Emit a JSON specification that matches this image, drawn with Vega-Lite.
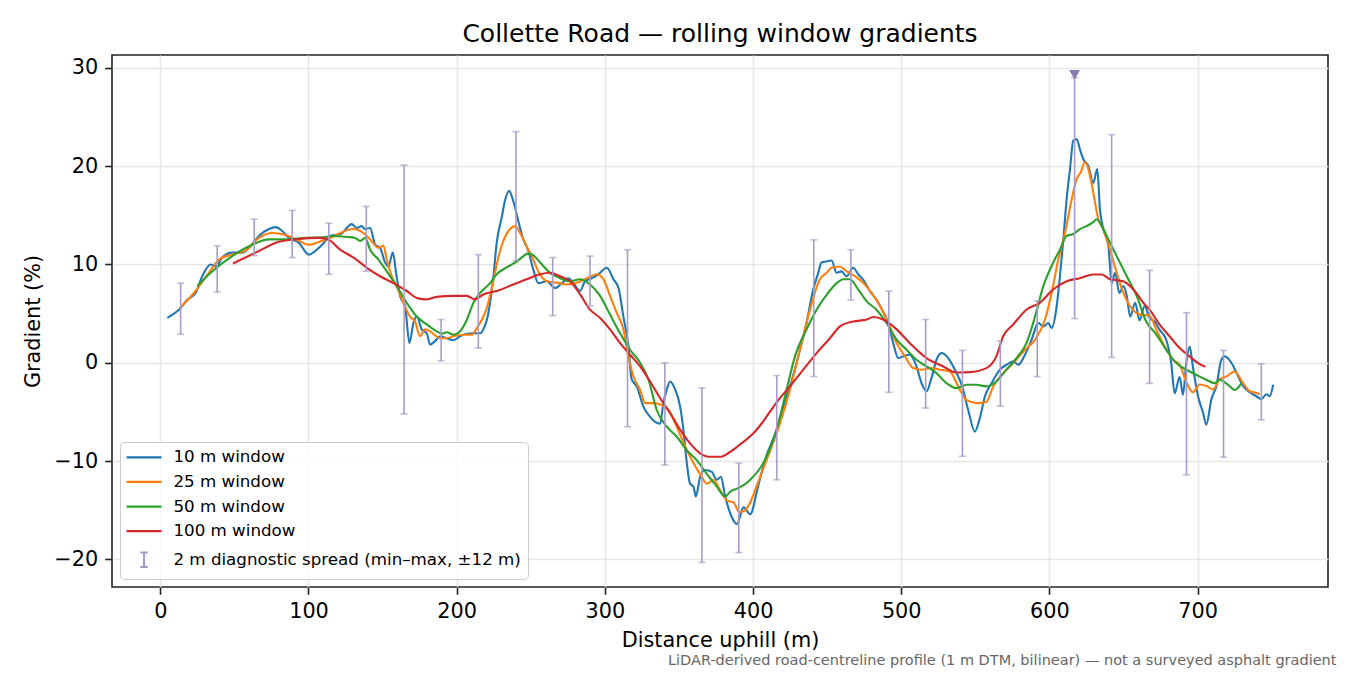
{
  "$schema": "https://vega.github.io/schema/vega-lite/v6.json",
  "width": 1216,
  "height": 532,
  "autosize": {"type": "none"},
  "padding": {"left": 112, "top": 55, "right": 22, "bottom": 88},
  "title": {
    "text": "Collette Road — rolling window gradients",
    "font": "DejaVu Sans", "fontSize": 25, "fontWeight": "normal", "color": "#000000",
    "anchor": "middle", "frame": "group", "offset": 8
  },
  "datasets": {
    "profiles": [
      {"series":"10 m window","dist":4.7,"grad":4.56},{"series":"10 m window","dist":8.1,"grad":4.9},{"series":"10 m window","dist":12.6,"grad":5.4},{"series":"10 m window","dist":18.2,"grad":6.4},{"series":"10 m window","dist":23.8,"grad":7.1},{"series":"10 m window","dist":28.3,"grad":8.8},{"series":"10 m window","dist":33.9,"grad":10.0},{"series":"10 m window","dist":37.5,"grad":9.8},{"series":"10 m window","dist":41.8,"grad":10.7},{"series":"10 m window","dist":48.5,"grad":11.2},{"series":"10 m window","dist":55.3,"grad":11.2},{"series":"10 m window","dist":59.8,"grad":11.7},{"series":"10 m window","dist":66.5,"grad":12.9},{"series":"10 m window","dist":73.3,"grad":13.6},{"series":"10 m window","dist":77.8,"grad":13.8},{"series":"10 m window","dist":82.3,"grad":13.4},{"series":"10 m window","dist":86.8,"grad":12.7},{"series":"10 m window","dist":93.5,"grad":12.2},{"series":"10 m window","dist":100.3,"grad":11.0},{"series":"10 m window","dist":104.8,"grad":11.4},{"series":"10 m window","dist":109.2,"grad":12.0},{"series":"10 m window","dist":114.6,"grad":12.9},{"series":"10 m window","dist":121.4,"grad":13.06},{"series":"10 m window","dist":129.2,"grad":14.1},{"series":"10 m window","dist":132.6,"grad":13.7},{"series":"10 m window","dist":135.9,"grad":13.9},{"series":"10 m window","dist":138.1,"grad":13.6},{"series":"10 m window","dist":141.6,"grad":13.7},{"series":"10 m window","dist":145.0,"grad":12.0},{"series":"10 m window","dist":148.3,"grad":11.7},{"series":"10 m window","dist":151.7,"grad":10.2},{"series":"10 m window","dist":153.9,"grad":9.8},{"series":"10 m window","dist":156.9,"grad":11.2},{"series":"10 m window","dist":159.1,"grad":9.15},{"series":"10 m window","dist":161.8,"grad":6.8},{"series":"10 m window","dist":165.2,"grad":5.75},{"series":"10 m window","dist":168.1,"grad":2.0},{"series":"10 m window","dist":170.8,"grad":4.05},{"series":"10 m window","dist":173.1,"grad":4.7},{"series":"10 m window","dist":176.4,"grad":3.4},{"series":"10 m window","dist":179.8,"grad":3.0},{"series":"10 m window","dist":182.1,"grad":1.84},{"series":"10 m window","dist":185.4,"grad":2.2},{"series":"10 m window","dist":188.8,"grad":2.7},{"series":"10 m window","dist":193.3,"grad":2.5},{"series":"10 m window","dist":197.8,"grad":2.3},{"series":"10 m window","dist":202.3,"grad":2.7},{"series":"10 m window","dist":206.8,"grad":2.96},{"series":"10 m window","dist":211.3,"grad":3.0},{"series":"10 m window","dist":215.8,"grad":3.0},{"series":"10 m window","dist":218.0,"grad":3.4},{"series":"10 m window","dist":221.4,"grad":5.07},{"series":"10 m window","dist":224.8,"grad":8.8},{"series":"10 m window","dist":227.0,"grad":12.2},{"series":"10 m window","dist":230.4,"grad":14.8},{"series":"10 m window","dist":232.6,"grad":16.5},{"series":"10 m window","dist":235.5,"grad":17.5},{"series":"10 m window","dist":237.0,"grad":17.0},{"series":"10 m window","dist":239.4,"grad":15.8},{"series":"10 m window","dist":241.6,"grad":14.4},{"series":"10 m window","dist":245.0,"grad":12.55},{"series":"10 m window","dist":248.4,"grad":11.36},{"series":"10 m window","dist":251.7,"grad":9.5},{"series":"10 m window","dist":255.1,"grad":8.1},{"series":"10 m window","dist":260.8,"grad":8.3},{"series":"10 m window","dist":266.4,"grad":7.6},{"series":"10 m window","dist":270.9,"grad":8.1},{"series":"10 m window","dist":275.4,"grad":8.6},{"series":"10 m window","dist":278.8,"grad":8.1},{"series":"10 m window","dist":283.3,"grad":7.3},{"series":"10 m window","dist":286.6,"grad":8.3},{"series":"10 m window","dist":291.1,"grad":8.6},{"series":"10 m window","dist":295.6,"grad":9.0},{"series":"10 m window","dist":301.3,"grad":9.66},{"series":"10 m window","dist":305.8,"grad":8.5},{"series":"10 m window","dist":309.2,"grad":7.6},{"series":"10 m window","dist":312.5,"grad":4.7},{"series":"10 m window","dist":315.9,"grad":1.66},{"series":"10 m window","dist":318.1,"grad":-1.7},{"series":"10 m window","dist":321.5,"grad":-2.4},{"series":"10 m window","dist":326.0,"grad":-4.46},{"series":"10 m window","dist":330.5,"grad":-5.5},{"series":"10 m window","dist":333.9,"grad":-6.0},{"series":"10 m window","dist":337.3,"grad":-6.2},{"series":"10 m window","dist":339.5,"grad":-4.1},{"series":"10 m window","dist":341.8,"grad":-2.7},{"series":"10 m window","dist":344.0,"grad":-1.9},{"series":"10 m window","dist":347.4,"grad":-2.7},{"series":"10 m window","dist":350.8,"grad":-4.46},{"series":"10 m window","dist":353.0,"grad":-6.8},{"series":"10 m window","dist":355.3,"grad":-10.2},{"series":"10 m window","dist":357.5,"grad":-12.3},{"series":"10 m window","dist":359.8,"grad":-12.6},{"series":"10 m window","dist":361.4,"grad":-13.6},{"series":"10 m window","dist":364.3,"grad":-11.6},{"series":"10 m window","dist":367.7,"grad":-10.9},{"series":"10 m window","dist":372.2,"grad":-11.1},{"series":"10 m window","dist":375.6,"grad":-11.9},{"series":"10 m window","dist":378.3,"grad":-11.6},{"series":"10 m window","dist":381.2,"grad":-13.6},{"series":"10 m window","dist":385.7,"grad":-15.7},{"series":"10 m window","dist":389.1,"grad":-16.4},{"series":"10 m window","dist":393.6,"grad":-14.7},{"series":"10 m window","dist":398.1,"grad":-15.4},{"series":"10 m window","dist":403.0,"grad":-12.8},{"series":"10 m window","dist":408.0,"grad":-9.9},{"series":"10 m window","dist":415.9,"grad":-6.8},{"series":"10 m window","dist":420.4,"grad":-4.46},{"series":"10 m window","dist":424.9,"grad":-2.4},{"series":"10 m window","dist":430.5,"grad":0.65},{"series":"10 m window","dist":436.1,"grad":4.05},{"series":"10 m window","dist":440.6,"grad":7.45},{"series":"10 m window","dist":444.0,"grad":9.15},{"series":"10 m window","dist":446.2,"grad":10.2},{"series":"10 m window","dist":449.6,"grad":10.3},{"series":"10 m window","dist":453.0,"grad":10.4},{"series":"10 m window","dist":456.4,"grad":9.15},{"series":"10 m window","dist":459.7,"grad":9.3},{"series":"10 m window","dist":463.1,"grad":8.8},{"series":"10 m window","dist":467.6,"grad":9.66},{"series":"10 m window","dist":471.0,"grad":8.98},{"series":"10 m window","dist":474.3,"grad":8.46},{"series":"10 m window","dist":478.8,"grad":7.3},{"series":"10 m window","dist":483.3,"grad":6.4},{"series":"10 m window","dist":487.8,"grad":5.2},{"series":"10 m window","dist":491.2,"grad":4.05},{"series":"10 m window","dist":494.6,"grad":2.0},{"series":"10 m window","dist":498.0,"grad":0.48},{"series":"10 m window","dist":501.3,"grad":0.65},{"series":"10 m window","dist":505.8,"grad":0.82},{"series":"10 m window","dist":510.3,"grad":-0.37},{"series":"10 m window","dist":513.7,"grad":-2.07},{"series":"10 m window","dist":517.1,"grad":-2.9},{"series":"10 m window","dist":520.4,"grad":-1.56},{"series":"10 m window","dist":523.8,"grad":0.31},{"series":"10 m window","dist":527.2,"grad":0.99},{"series":"10 m window","dist":531.7,"grad":0.48},{"series":"10 m window","dist":536.2,"grad":-0.7},{"series":"10 m window","dist":540.7,"grad":-2.2},{"series":"10 m window","dist":545.2,"grad":-4.8},{"series":"10 m window","dist":549.7,"grad":-7.0},{"series":"10 m window","dist":553.1,"grad":-5.6},{"series":"10 m window","dist":556.5,"grad":-3.4},{"series":"10 m window","dist":561.0,"grad":-2.07},{"series":"10 m window","dist":566.6,"grad":-0.7},{"series":"10 m window","dist":571.1,"grad":-0.2},{"series":"10 m window","dist":575.6,"grad":0.14},{"series":"10 m window","dist":579.0,"grad":-0.2},{"series":"10 m window","dist":583.5,"grad":0.82},{"series":"10 m window","dist":588.0,"grad":2.35},{"series":"10 m window","dist":592.5,"grad":4.05},{"series":"10 m window","dist":595.9,"grad":3.7},{"series":"10 m window","dist":599.2,"grad":4.05},{"series":"10 m window","dist":601.5,"grad":3.54},{"series":"10 m window","dist":604.9,"grad":5.75},{"series":"10 m window","dist":607.1,"grad":8.8},{"series":"10 m window","dist":609.4,"grad":12.55},{"series":"10 m window","dist":611.6,"grad":16.6},{"series":"10 m window","dist":613.9,"grad":19.7},{"series":"10 m window","dist":616.1,"grad":22.6},{"series":"10 m window","dist":618.4,"grad":22.75},{"series":"10 m window","dist":620.6,"grad":21.7},{"series":"10 m window","dist":622.9,"grad":20.7},{"series":"10 m window","dist":626.3,"grad":20.0},{"series":"10 m window","dist":629.6,"grad":18.3},{"series":"10 m window","dist":632.3,"grad":19.7},{"series":"10 m window","dist":634.1,"grad":15.6},{"series":"10 m window","dist":636.4,"grad":13.6},{"series":"10 m window","dist":639.8,"grad":11.9},{"series":"10 m window","dist":642.0,"grad":8.1},{"series":"10 m window","dist":644.3,"grad":9.15},{"series":"10 m window","dist":647.2,"grad":7.1},{"series":"10 m window","dist":650.0,"grad":7.8},{"series":"10 m window","dist":652.2,"grad":6.8},{"series":"10 m window","dist":654.5,"grad":4.7},{"series":"10 m window","dist":657.9,"grad":6.1},{"series":"10 m window","dist":660.8,"grad":4.3},{"series":"10 m window","dist":664.2,"grad":5.75},{"series":"10 m window","dist":667.6,"grad":4.56},{"series":"10 m window","dist":671.0,"grad":4.2},{"series":"10 m window","dist":674.3,"grad":3.37},{"series":"10 m window","dist":678.8,"grad":2.35},{"series":"10 m window","dist":682.2,"grad":-0.03},{"series":"10 m window","dist":684.5,"grad":-3.1},{"series":"10 m window","dist":687.9,"grad":-1.45},{"series":"10 m window","dist":690.1,"grad":-3.27},{"series":"10 m window","dist":692.4,"grad":0.0},{"series":"10 m window","dist":694.6,"grad":1.66},{"series":"10 m window","dist":696.9,"grad":-0.48},{"series":"10 m window","dist":700.3,"grad":-3.4},{"series":"10 m window","dist":703.7,"grad":-5.1},{"series":"10 m window","dist":705.9,"grad":-6.3},{"series":"10 m window","dist":709.3,"grad":-3.7},{"series":"10 m window","dist":712.7,"grad":-2.35},{"series":"10 m window","dist":716.0,"grad":0.31},{"series":"10 m window","dist":718.3,"grad":0.65},{"series":"10 m window","dist":722.8,"grad":0.0},{"series":"10 m window","dist":726.2,"grad":-1.0},{"series":"10 m window","dist":730.7,"grad":-2.35},{"series":"10 m window","dist":735.2,"grad":-3.0},{"series":"10 m window","dist":739.7,"grad":-3.4},{"series":"10 m window","dist":743.0,"grad":-3.7},{"series":"10 m window","dist":746.4,"grad":-3.2},{"series":"10 m window","dist":748.7,"grad":-3.4},{"series":"10 m window","dist":751.0,"grad":-2.24},
      {"series":"25 m window","dist":12.6,"grad":5.5},{"series":"25 m window","dist":23.8,"grad":7.3},{"series":"25 m window","dist":33.0,"grad":9.2},{"series":"25 m window","dist":39.6,"grad":10.5},{"series":"25 m window","dist":48.0,"grad":11.0},{"series":"25 m window","dist":57.5,"grad":11.4},{"series":"25 m window","dist":66.5,"grad":12.7},{"series":"25 m window","dist":75.5,"grad":13.2},{"series":"25 m window","dist":84.5,"grad":13.0},{"series":"25 m window","dist":93.5,"grad":12.4},{"series":"25 m window","dist":100.3,"grad":12.0},{"series":"25 m window","dist":109.2,"grad":12.4},{"series":"25 m window","dist":114.8,"grad":12.7},{"series":"25 m window","dist":121.4,"grad":13.2},{"series":"25 m window","dist":130.4,"grad":13.6},{"series":"25 m window","dist":137.0,"grad":13.2},{"series":"25 m window","dist":141.6,"grad":12.55},{"series":"25 m window","dist":147.2,"grad":11.7},{"series":"25 m window","dist":150.6,"grad":11.9},{"series":"25 m window","dist":152.8,"grad":10.5},{"series":"25 m window","dist":156.2,"grad":8.8},{"series":"25 m window","dist":159.5,"grad":7.8},{"series":"25 m window","dist":164.0,"grad":6.1},{"series":"25 m window","dist":168.5,"grad":4.7},{"series":"25 m window","dist":171.9,"grad":4.2},{"series":"25 m window","dist":175.3,"grad":2.7},{"series":"25 m window","dist":178.6,"grad":3.4},{"series":"25 m window","dist":182.1,"grad":3.2},{"series":"25 m window","dist":185.4,"grad":2.8},{"series":"25 m window","dist":188.8,"grad":2.5},{"series":"25 m window","dist":193.3,"grad":2.5},{"series":"25 m window","dist":197.8,"grad":2.7},{"series":"25 m window","dist":204.5,"grad":2.85},{"series":"25 m window","dist":210.2,"grad":2.85},{"series":"25 m window","dist":213.5,"grad":3.5},{"series":"25 m window","dist":216.9,"grad":4.35},{"series":"25 m window","dist":220.3,"grad":5.55},{"series":"25 m window","dist":223.7,"grad":7.6},{"series":"25 m window","dist":227.0,"grad":10.0},{"series":"25 m window","dist":231.5,"grad":12.4},{"series":"25 m window","dist":236.0,"grad":13.6},{"series":"25 m window","dist":239.4,"grad":13.9},{"series":"25 m window","dist":242.8,"grad":13.2},{"series":"25 m window","dist":247.2,"grad":11.86},{"series":"25 m window","dist":251.7,"grad":10.5},{"series":"25 m window","dist":255.0,"grad":9.3},{"series":"25 m window","dist":260.8,"grad":8.3},{"series":"25 m window","dist":267.5,"grad":8.15},{"series":"25 m window","dist":274.3,"grad":7.96},{"series":"25 m window","dist":281.0,"grad":8.15},{"series":"25 m window","dist":287.8,"grad":8.6},{"series":"25 m window","dist":294.5,"grad":9.0},{"series":"25 m window","dist":299.0,"grad":8.5},{"series":"25 m window","dist":303.5,"grad":6.8},{"series":"25 m window","dist":308.0,"grad":5.07},{"series":"25 m window","dist":312.5,"grad":3.4},{"series":"25 m window","dist":315.9,"grad":0.65},{"series":"25 m window","dist":319.3,"grad":-1.4},{"series":"25 m window","dist":323.8,"grad":-2.76},{"series":"25 m window","dist":327.2,"grad":-4.1},{"series":"25 m window","dist":332.8,"grad":-4.1},{"series":"25 m window","dist":338.4,"grad":-4.3},{"series":"25 m window","dist":342.9,"grad":-4.8},{"series":"25 m window","dist":348.5,"grad":-6.5},{"series":"25 m window","dist":354.2,"grad":-8.5},{"series":"25 m window","dist":359.8,"grad":-10.2},{"series":"25 m window","dist":365.4,"grad":-11.6},{"series":"25 m window","dist":368.8,"grad":-12.3},{"series":"25 m window","dist":373.3,"grad":-11.9},{"series":"25 m window","dist":377.8,"grad":-12.96},{"series":"25 m window","dist":382.3,"grad":-14.0},{"series":"25 m window","dist":386.8,"grad":-14.2},{"series":"25 m window","dist":390.8,"grad":-15.2},{"series":"25 m window","dist":394.7,"grad":-15.0},{"series":"25 m window","dist":398.1,"grad":-14.2},{"series":"25 m window","dist":403.0,"grad":-12.3},{"series":"25 m window","dist":409.1,"grad":-9.9},{"series":"25 m window","dist":418.1,"grad":-6.2},{"series":"25 m window","dist":424.9,"grad":-2.76},{"series":"25 m window","dist":431.6,"grad":1.33},{"series":"25 m window","dist":438.4,"grad":5.4},{"series":"25 m window","dist":445.1,"grad":8.5},{"series":"25 m window","dist":449.6,"grad":9.15},{"series":"25 m window","dist":453.0,"grad":9.66},{"series":"25 m window","dist":458.7,"grad":9.77},{"series":"25 m window","dist":463.1,"grad":9.3},{"series":"25 m window","dist":468.8,"grad":8.8},{"series":"25 m window","dist":474.3,"grad":8.15},{"series":"25 m window","dist":480.0,"grad":7.1},{"series":"25 m window","dist":485.6,"grad":5.8},{"series":"25 m window","dist":491.2,"grad":4.05},{"series":"25 m window","dist":496.9,"grad":2.0},{"series":"25 m window","dist":502.5,"grad":0.65},{"series":"25 m window","dist":508.1,"grad":-0.54},{"series":"25 m window","dist":513.7,"grad":-0.7},{"series":"25 m window","dist":519.3,"grad":-0.54},{"series":"25 m window","dist":526.1,"grad":-0.7},{"series":"25 m window","dist":532.8,"grad":-0.88},{"series":"25 m window","dist":538.4,"grad":-2.4},{"series":"25 m window","dist":544.0,"grad":-3.78},{"series":"25 m window","dist":550.8,"grad":-4.1},{"series":"25 m window","dist":557.5,"grad":-3.95},{"series":"25 m window","dist":562.1,"grad":-2.4},{"series":"25 m window","dist":568.8,"grad":-1.05},{"series":"25 m window","dist":575.6,"grad":-0.03},{"series":"25 m window","dist":583.5,"grad":1.33},{"series":"25 m window","dist":590.3,"grad":2.35},{"series":"25 m window","dist":597.0,"grad":4.4},{"series":"25 m window","dist":601.5,"grad":7.1},{"series":"25 m window","dist":606.0,"grad":10.5},{"series":"25 m window","dist":610.5,"grad":13.2},{"series":"25 m window","dist":615.0,"grad":16.6},{"series":"25 m window","dist":618.4,"grad":18.7},{"series":"25 m window","dist":621.1,"grad":19.35},{"series":"25 m window","dist":624.0,"grad":20.4},{"series":"25 m window","dist":626.3,"grad":19.7},{"series":"25 m window","dist":629.6,"grad":17.3},{"series":"25 m window","dist":633.0,"grad":14.6},{"series":"25 m window","dist":636.4,"grad":13.6},{"series":"25 m window","dist":640.9,"grad":11.5},{"series":"25 m window","dist":645.4,"grad":9.15},{"series":"25 m window","dist":649.9,"grad":7.1},{"series":"25 m window","dist":654.5,"grad":5.75},{"series":"25 m window","dist":661.2,"grad":4.9},{"series":"25 m window","dist":667.6,"grad":4.8},{"series":"25 m window","dist":672.1,"grad":3.37},{"series":"25 m window","dist":677.8,"grad":1.66},{"series":"25 m window","dist":683.4,"grad":0.31},{"series":"25 m window","dist":687.9,"grad":-0.2},{"series":"25 m window","dist":692.4,"grad":-1.97},{"series":"25 m window","dist":696.9,"grad":-3.0},{"series":"25 m window","dist":701.4,"grad":-2.2},{"series":"25 m window","dist":705.9,"grad":-2.35},{"series":"25 m window","dist":710.4,"grad":-2.7},{"series":"25 m window","dist":714.9,"grad":-1.66},{"series":"25 m window","dist":719.4,"grad":-1.4},{"series":"25 m window","dist":725.0,"grad":-0.88},{"series":"25 m window","dist":730.7,"grad":-2.07},{"series":"25 m window","dist":735.2,"grad":-2.9},{"series":"25 m window","dist":739.7,"grad":-3.07},{"series":"25 m window","dist":742.0,"grad":-3.2},
      {"series":"50 m window","dist":25.0,"grad":7.8},{"series":"50 m window","dist":35.1,"grad":9.3},{"series":"50 m window","dist":48.5,"grad":10.85},{"series":"50 m window","dist":62.0,"grad":12.0},{"series":"50 m window","dist":73.3,"grad":12.55},{"series":"50 m window","dist":84.5,"grad":12.55},{"series":"50 m window","dist":98.0,"grad":12.7},{"series":"50 m window","dist":111.5,"grad":12.8},{"series":"50 m window","dist":116.9,"grad":12.9},{"series":"50 m window","dist":125.9,"grad":12.8},{"series":"50 m window","dist":131.5,"grad":12.7},{"series":"50 m window","dist":134.9,"grad":12.4},{"series":"50 m window","dist":138.3,"grad":12.7},{"series":"50 m window","dist":141.6,"grad":11.5},{"series":"50 m window","dist":147.2,"grad":10.5},{"series":"50 m window","dist":152.8,"grad":9.3},{"series":"50 m window","dist":159.5,"grad":7.8},{"series":"50 m window","dist":166.3,"grad":6.1},{"series":"50 m window","dist":173.1,"grad":4.7},{"series":"50 m window","dist":179.8,"grad":3.9},{"series":"50 m window","dist":186.5,"grad":3.2},{"series":"50 m window","dist":189.9,"grad":2.96},{"series":"50 m window","dist":193.3,"grad":3.1},{"series":"50 m window","dist":197.8,"grad":2.85},{"series":"50 m window","dist":202.3,"grad":3.2},{"series":"50 m window","dist":206.8,"grad":4.35},{"series":"50 m window","dist":211.3,"grad":6.1},{"series":"50 m window","dist":215.8,"grad":7.1},{"series":"50 m window","dist":222.5,"grad":8.1},{"series":"50 m window","dist":227.0,"grad":9.0},{"series":"50 m window","dist":233.7,"grad":9.7},{"series":"50 m window","dist":240.5,"grad":10.3},{"series":"50 m window","dist":248.4,"grad":11.1},{"series":"50 m window","dist":252.0,"grad":10.9},{"series":"50 m window","dist":256.3,"grad":10.2},{"series":"50 m window","dist":263.0,"grad":9.15},{"series":"50 m window","dist":269.8,"grad":8.6},{"series":"50 m window","dist":276.5,"grad":8.3},{"series":"50 m window","dist":283.3,"grad":8.5},{"series":"50 m window","dist":290.0,"grad":7.96},{"series":"50 m window","dist":296.8,"grad":6.8},{"series":"50 m window","dist":303.5,"grad":4.9},{"series":"50 m window","dist":310.3,"grad":3.0},{"series":"50 m window","dist":317.0,"grad":1.33},{"series":"50 m window","dist":323.8,"grad":0.0},{"series":"50 m window","dist":329.4,"grad":-1.7},{"series":"50 m window","dist":335.0,"grad":-4.8},{"series":"50 m window","dist":341.8,"grad":-6.5},{"series":"50 m window","dist":348.5,"grad":-7.5},{"series":"50 m window","dist":355.3,"grad":-8.9},{"series":"50 m window","dist":362.0,"grad":-9.9},{"series":"50 m window","dist":368.8,"grad":-11.3},{"series":"50 m window","dist":375.6,"grad":-12.6},{"series":"50 m window","dist":381.2,"grad":-13.6},{"series":"50 m window","dist":384.6,"grad":-13.1},{"series":"50 m window","dist":389.1,"grad":-12.8},{"series":"50 m window","dist":393.6,"grad":-12.45},{"series":"50 m window","dist":398.1,"grad":-11.9},{"series":"50 m window","dist":408.0,"grad":-9.9},{"series":"50 m window","dist":415.9,"grad":-6.8},{"series":"50 m window","dist":422.6,"grad":-2.76},{"series":"50 m window","dist":428.3,"grad":0.65},{"series":"50 m window","dist":436.1,"grad":3.4},{"series":"50 m window","dist":442.9,"grad":5.4},{"series":"50 m window","dist":449.6,"grad":6.9},{"series":"50 m window","dist":456.4,"grad":8.1},{"series":"50 m window","dist":460.9,"grad":8.5},{"series":"50 m window","dist":465.4,"grad":8.5},{"series":"50 m window","dist":471.0,"grad":7.45},{"series":"50 m window","dist":476.7,"grad":6.25},{"series":"50 m window","dist":483.3,"grad":5.4},{"series":"50 m window","dist":490.1,"grad":4.05},{"series":"50 m window","dist":496.9,"grad":2.35},{"series":"50 m window","dist":503.6,"grad":1.33},{"series":"50 m window","dist":510.3,"grad":0.31},{"series":"50 m window","dist":517.1,"grad":-0.37},{"series":"50 m window","dist":523.8,"grad":-1.05},{"series":"50 m window","dist":530.5,"grad":-2.07},{"series":"50 m window","dist":537.3,"grad":-2.58},{"series":"50 m window","dist":544.0,"grad":-2.24},{"series":"50 m window","dist":550.8,"grad":-2.24},{"series":"50 m window","dist":557.5,"grad":-2.4},{"series":"50 m window","dist":564.2,"grad":-1.9},{"series":"50 m window","dist":571.0,"grad":-0.7},{"series":"50 m window","dist":577.8,"grad":0.48},{"series":"50 m window","dist":584.5,"grad":2.0},{"series":"50 m window","dist":590.3,"grad":4.7},{"series":"50 m window","dist":595.9,"grad":7.8},{"series":"50 m window","dist":602.6,"grad":10.2},{"series":"50 m window","dist":607.1,"grad":11.5},{"series":"50 m window","dist":611.6,"grad":12.9},{"series":"50 m window","dist":616.1,"grad":13.1},{"series":"50 m window","dist":620.6,"grad":13.6},{"series":"50 m window","dist":625.1,"grad":13.9},{"series":"50 m window","dist":629.6,"grad":14.3},{"series":"50 m window","dist":631.9,"grad":14.6},{"series":"50 m window","dist":635.3,"grad":13.9},{"series":"50 m window","dist":639.8,"grad":12.55},{"series":"50 m window","dist":645.4,"grad":10.85},{"series":"50 m window","dist":652.2,"grad":8.8},{"series":"50 m window","dist":658.9,"grad":6.8},{"series":"50 m window","dist":665.3,"grad":4.2},{"series":"50 m window","dist":672.1,"grad":2.9},{"series":"50 m window","dist":678.8,"grad":1.33},{"series":"50 m window","dist":685.6,"grad":-0.03},{"series":"50 m window","dist":692.4,"grad":-0.71},{"series":"50 m window","dist":699.1,"grad":-1.22},{"series":"50 m window","dist":705.9,"grad":-1.73},{"series":"50 m window","dist":711.5,"grad":-2.07},{"series":"50 m window","dist":714.9,"grad":-1.73},{"series":"50 m window","dist":720.6,"grad":-2.24},{"series":"50 m window","dist":725.1,"grad":-2.76},{"series":"50 m window","dist":729.6,"grad":-2.07},
      {"series":"100 m window","dist":49.0,"grad":10.1},{"series":"100 m window","dist":64.3,"grad":11.2},{"series":"100 m window","dist":80.0,"grad":12.3},{"series":"100 m window","dist":93.5,"grad":12.6},{"series":"100 m window","dist":107.0,"grad":12.7},{"series":"100 m window","dist":113.7,"grad":12.5},{"series":"100 m window","dist":121.4,"grad":11.5},{"series":"100 m window","dist":130.4,"grad":10.7},{"series":"100 m window","dist":139.4,"grad":9.66},{"series":"100 m window","dist":148.3,"grad":8.8},{"series":"100 m window","dist":157.3,"grad":8.1},{"series":"100 m window","dist":166.3,"grad":7.3},{"series":"100 m window","dist":173.1,"grad":6.6},{"series":"100 m window","dist":179.8,"grad":6.45},{"series":"100 m window","dist":186.5,"grad":6.7},{"series":"100 m window","dist":197.8,"grad":6.8},{"series":"100 m window","dist":206.8,"grad":6.8},{"series":"100 m window","dist":212.4,"grad":6.45},{"series":"100 m window","dist":218.0,"grad":6.95},{"series":"100 m window","dist":227.0,"grad":7.3},{"series":"100 m window","dist":238.2,"grad":7.96},{"series":"100 m window","dist":247.2,"grad":8.5},{"series":"100 m window","dist":256.3,"grad":9.0},{"series":"100 m window","dist":263.0,"grad":9.15},{"series":"100 m window","dist":269.8,"grad":8.8},{"series":"100 m window","dist":276.5,"grad":8.3},{"series":"100 m window","dist":283.3,"grad":6.96},{"series":"100 m window","dist":290.0,"grad":5.4},{"series":"100 m window","dist":296.8,"grad":4.56},{"series":"100 m window","dist":303.5,"grad":3.4},{"series":"100 m window","dist":310.3,"grad":2.0},{"series":"100 m window","dist":317.0,"grad":0.82},{"series":"100 m window","dist":323.8,"grad":-0.37},{"series":"100 m window","dist":330.5,"grad":-1.9},{"series":"100 m window","dist":337.3,"grad":-3.6},{"series":"100 m window","dist":344.0,"grad":-5.1},{"series":"100 m window","dist":350.8,"grad":-6.8},{"series":"100 m window","dist":357.5,"grad":-8.2},{"series":"100 m window","dist":364.3,"grad":-9.2},{"series":"100 m window","dist":371.0,"grad":-9.56},{"series":"100 m window","dist":377.8,"grad":-9.56},{"series":"100 m window","dist":384.6,"grad":-9.05},{"series":"100 m window","dist":391.3,"grad":-8.3},{"series":"100 m window","dist":400.1,"grad":-7.2},{"series":"100 m window","dist":405.7,"grad":-6.2},{"series":"100 m window","dist":411.3,"grad":-5.0},{"series":"100 m window","dist":418.1,"grad":-3.6},{"series":"100 m window","dist":424.9,"grad":-2.4},{"series":"100 m window","dist":433.9,"grad":-0.7},{"series":"100 m window","dist":442.9,"grad":0.99},{"series":"100 m window","dist":451.9,"grad":2.5},{"series":"100 m window","dist":458.7,"grad":3.7},{"series":"100 m window","dist":467.6,"grad":4.2},{"series":"100 m window","dist":476.7,"grad":4.4},{"series":"100 m window","dist":481.2,"grad":4.66},{"series":"100 m window","dist":487.8,"grad":4.4},{"series":"100 m window","dist":496.9,"grad":3.4},{"series":"100 m window","dist":505.8,"grad":2.0},{"series":"100 m window","dist":517.1,"grad":0.48},{"series":"100 m window","dist":528.4,"grad":-0.37},{"series":"100 m window","dist":537.3,"grad":-0.99},{"series":"100 m window","dist":546.3,"grad":-0.95},{"series":"100 m window","dist":557.5,"grad":-0.54},{"series":"100 m window","dist":564.2,"grad":0.65},{"series":"100 m window","dist":568.8,"grad":2.7},{"series":"100 m window","dist":575.6,"grad":3.9},{"series":"100 m window","dist":584.5,"grad":5.4},{"series":"100 m window","dist":593.5,"grad":6.1},{"series":"100 m window","dist":602.5,"grad":7.45},{"series":"100 m window","dist":611.6,"grad":8.3},{"series":"100 m window","dist":620.6,"grad":8.6},{"series":"100 m window","dist":629.6,"grad":8.98},{"series":"100 m window","dist":635.3,"grad":8.98},{"series":"100 m window","dist":640.9,"grad":8.5},{"series":"100 m window","dist":649.9,"grad":8.3},{"series":"100 m window","dist":656.7,"grad":7.45},{"series":"100 m window","dist":663.4,"grad":6.1},{"series":"100 m window","dist":667.6,"grad":5.4},{"series":"100 m window","dist":674.3,"grad":3.9},{"series":"100 m window","dist":681.1,"grad":2.7},{"series":"100 m window","dist":687.9,"grad":1.5},{"series":"100 m window","dist":694.6,"grad":0.65},{"series":"100 m window","dist":700.3,"grad":-0.03},{"series":"100 m window","dist":705.3,"grad":-0.41}
    ],
    "spread": [
      {"series":"2 m diagnostic spread (min–max, ±12 m)","dist":13.7,"lo":2.9,"hi":8.1},
      {"series":"2 m diagnostic spread (min–max, ±12 m)","dist":38.4,"lo":7.2,"hi":11.9},
      {"series":"2 m diagnostic spread (min–max, ±12 m)","dist":63.4,"lo":10.9,"hi":14.6},
      {"series":"2 m diagnostic spread (min–max, ±12 m)","dist":89.0,"lo":10.7,"hi":15.5},
      {"series":"2 m diagnostic spread (min–max, ±12 m)","dist":113.7,"lo":9.0,"hi":14.2},
      {"series":"2 m diagnostic spread (min–max, ±12 m)","dist":139.0,"lo":9.3,"hi":15.9},
      {"series":"2 m diagnostic spread (min–max, ±12 m)","dist":164.5,"lo":-5.2,"hi":20.1},
      {"series":"2 m diagnostic spread (min–max, ±12 m)","dist":189.5,"lo":0.2,"hi":4.4},
      {"series":"2 m diagnostic spread (min–max, ±12 m)","dist":214.6,"lo":1.5,"hi":11.0},
      {"series":"2 m diagnostic spread (min–max, ±12 m)","dist":240.0,"lo":10.4,"hi":23.5},
      {"series":"2 m diagnostic spread (min–max, ±12 m)","dist":264.8,"lo":4.8,"hi":10.7},
      {"series":"2 m diagnostic spread (min–max, ±12 m)","dist":290.0,"lo":5.8,"hi":10.85},
      {"series":"2 m diagnostic spread (min–max, ±12 m)","dist":315.3,"lo":-6.5,"hi":11.5},
      {"series":"2 m diagnostic spread (min–max, ±12 m)","dist":340.5,"lo":-10.4,"hi":0.0},
      {"series":"2 m diagnostic spread (min–max, ±12 m)","dist":365.5,"lo":-20.3,"hi":-2.55},
      {"series":"2 m diagnostic spread (min–max, ±12 m)","dist":390.4,"lo":-19.3,"hi":-10.2},
      {"series":"2 m diagnostic spread (min–max, ±12 m)","dist":416.0,"lo":-11.9,"hi":-1.3},
      {"series":"2 m diagnostic spread (min–max, ±12 m)","dist":441.0,"lo":-1.4,"hi":12.5},
      {"series":"2 m diagnostic spread (min–max, ±12 m)","dist":466.0,"lo":6.4,"hi":11.5},
      {"series":"2 m diagnostic spread (min–max, ±12 m)","dist":491.6,"lo":-3.0,"hi":7.3},
      {"series":"2 m diagnostic spread (min–max, ±12 m)","dist":516.5,"lo":-4.6,"hi":4.4},
      {"series":"2 m diagnostic spread (min–max, ±12 m)","dist":541.3,"lo":-9.5,"hi":1.26},
      {"series":"2 m diagnostic spread (min–max, ±12 m)","dist":566.9,"lo":-4.4,"hi":2.2},
      {"series":"2 m diagnostic spread (min–max, ±12 m)","dist":591.8,"lo":-1.4,"hi":6.3},
      {"series":"2 m diagnostic spread (min–max, ±12 m)","dist":617.0,"lo":4.5,"hi":29.0},
      {"series":"2 m diagnostic spread (min–max, ±12 m)","dist":642.0,"lo":0.55,"hi":23.2},
      {"series":"2 m diagnostic spread (min–max, ±12 m)","dist":667.6,"lo":-2.1,"hi":9.4},
      {"series":"2 m diagnostic spread (min–max, ±12 m)","dist":692.5,"lo":-11.4,"hi":5.1},
      {"series":"2 m diagnostic spread (min–max, ±12 m)","dist":717.5,"lo":-9.6,"hi":1.26},
      {"series":"2 m diagnostic spread (min–max, ±12 m)","dist":743.0,"lo":-5.8,"hi":-0.1}
    ],
    "peak": [
      {"dist":617.0,"grad":29.3}
    ]
  },
  "layer": [
    {
      "data": {"name": "profiles"},
      "mark": {"type": "line", "strokeWidth": 2.1, "interpolate": "monotone"},
      "encoding": {
        "x": {
          "field": "dist", "type": "quantitative",
          "scale": {"domain": [-32.6, 788.0], "nice": false, "zero": false},
          "axis": {"orient": "bottom", "title": "Distance uphill (m)", "values": [0,100,200,300,400,500,600,700], "grid": true, "titleY": 59, "titleBaseline": "alphabetic"}
        },
        "y": {
          "field": "grad", "type": "quantitative",
          "scale": {"domain": [-22.8, 31.3], "nice": false, "zero": false},
          "axis": {"title": "Gradient (%)", "values": [-20,-10,0,10,20,30], "grid": true, "labelExpr": "replace(datum.label, '-', '−')", "titleX": -73, "titleBaseline": "alphabetic"}
        },
        "color": {
          "field": "series", "type": "nominal",
          "scale": {
            "domain": ["10 m window","25 m window","50 m window","100 m window","2 m diagnostic spread (min–max, ±12 m)"],
            "range": ["#1f77b4","#ff7f0e","#2ca02c","#d62728","#a99bc7"]
          },
          "legend": {
            "title": null, "orient": "bottom-left", "offset": 8, "padding": 7, "rowPadding": 6.6,
            "labelFont": "DejaVu Sans", "labelFontSize": 16.7, "labelColor": "#000000", "labelLimit": 600, "labelOffset": 21,
            "symbolOffset": 8.7, "symbolSize": 100, "symbolStrokeWidth": 2.2, "symbolType": "M-3.5,0H3.5",
            "strokeColor": "#cccccc", "fillColor": "rgba(255,255,255,0.8)", "cornerRadius": 4,
            "encode": {
              "symbols": {
                "update": {
                  "shape": {"signal": "datum.index === 4 ? 'M0,-1.45V1.45M-0.75,-1.45H0.75M-0.75,1.45H0.75' : 'M-3.5,0H3.5'"}
                }
              }
            }
          }
        }
      }
    },
    {
      "data": {"name": "spread"},
      "mark": {"type": "rule", "strokeWidth": 1.6},
      "encoding": {
        "x": {
          "field": "dist", "type": "quantitative",
          "axis": {
            "orient": "bottom",
            "title": "LiDAR-derived road-centreline profile (1 m DTM, bilinear) — not a surveyed asphalt gradient",
            "labels": false, "ticks": false, "domain": false, "grid": false,
            "titleFontSize": 14.5, "titleColor": "#666666", "titleAlign": "right", "titleAnchor": "end",
            "titleX": 1224, "titleY": 77.6, "titleBaseline": "alphabetic"
          }
        },
        "y": {"field": "lo", "type": "quantitative", "title": "Gradient (%)"},
        "y2": {"field": "hi"},
        "color": {"field": "series", "type": "nominal"}
      }
    },
    {
      "data": {"name": "spread"},
      "mark": {"type": "tick", "orient": "horizontal", "size": 7, "thickness": 1.6, "color": "#a99bc7"},
      "encoding": {
        "x": {"field": "dist", "type": "quantitative", "axis": null},
        "y": {"field": "lo", "type": "quantitative", "title": "Gradient (%)"}
      }
    },
    {
      "data": {"name": "spread"},
      "mark": {"type": "tick", "orient": "horizontal", "size": 7, "thickness": 1.6, "color": "#a99bc7"},
      "encoding": {
        "x": {"field": "dist", "type": "quantitative", "axis": null},
        "y": {"field": "hi", "type": "quantitative", "title": "Gradient (%)"}
      }
    },
    {
      "data": {"name": "peak"},
      "mark": {"type": "point", "shape": "triangle-down", "filled": true, "size": 120, "color": "#8a7aae", "opacity": 1},
      "encoding": {
        "x": {"field": "dist", "type": "quantitative", "axis": null},
        "y": {"field": "grad", "type": "quantitative", "title": "Gradient (%)"}
      }
    }
  ],
  "resolve": {"axis": {"x": "independent"}},
  "config": {
    "font": "DejaVu Sans",
    "background": "#ffffff",
    "view": {"stroke": "#222222", "strokeWidth": 1.6},
    "axis": {
      "labelFont": "DejaVu Sans", "labelFontSize": 20.8, "labelColor": "#000000",
      "titleFont": "DejaVu Sans", "titleFontSize": 20.8, "titleFontWeight": "normal", "titleColor": "#000000",
      "tickColor": "#222222", "tickSize": 7.3, "tickWidth": 1.6, "labelPadding": 7,
      "gridColor": "#e6e6e6", "gridWidth": 1.5, "domain": false
    }
  }
}
